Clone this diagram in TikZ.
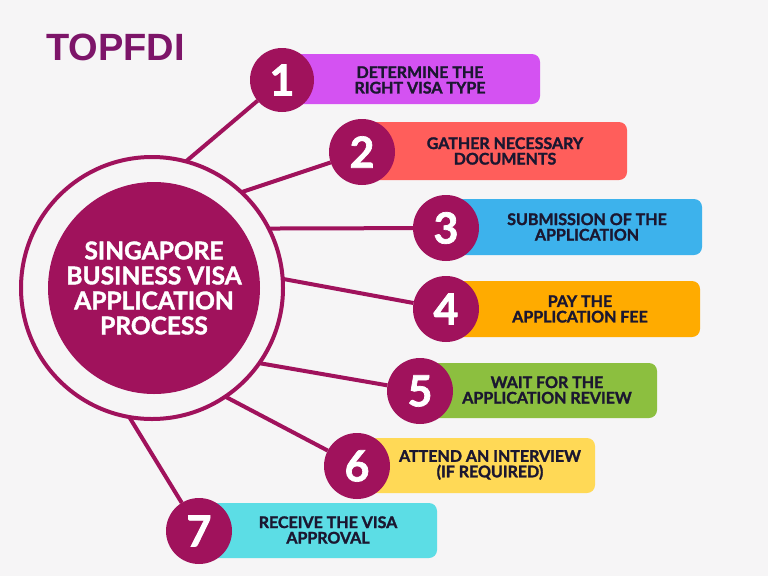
\documentclass[tikz,border=0pt]{standalone}
\usepackage{fontspec}
\setmainfont{Lato}[BoldFeatures={FakeBold=1.6}]
\newfontfamily\arialf{Liberation Sans}
\definecolor{bgc}{HTML}{F6F5F6}
\definecolor{mag}{HTML}{A0125C}
\definecolor{brand}{HTML}{7D1569}
\definecolor{txt}{HTML}{1B1730}
\definecolor{bxa}{HTML}{D452F2}
\definecolor{bxb}{HTML}{FF5E5B}
\definecolor{bxc}{HTML}{3DB2EC}
\definecolor{bxd}{HTML}{FFAB00}
\definecolor{bxe}{HTML}{8CBF3F}
\definecolor{bxf}{HTML}{FFD956}
\definecolor{bxg}{HTML}{5CDDE5}
\tikzset{
  numc/.style={circle, fill=mag, minimum size=66pt, inner sep=0pt, outer sep=0pt, text=white, font=\fontsize{43}{43}\selectfont\bfseries},
  stepbox/.style={rounded corners=8pt, inner sep=0pt, outer sep=0pt},
  steptxt/.style={align=center, text=txt, font=\fontsize{16}{15.5}\selectfont\bfseries, inner sep=0pt},
  conn/.style={draw=mag, line width=4pt},
}
\begin{document}
\begin{tikzpicture}[x=1pt,y=-1pt]
\fill[bgc] (0,0) rectangle (768,576);
\useasboundingbox (0,0) rectangle (768,576);

\node[font=\arialf\fontsize{38}{38}\selectfont\bfseries, text=brand, anchor=west, inner sep=0pt] (brand) at (46,47) {TOPFDI};

% central circle
\node[circle, draw=mag, line width=4pt, minimum size=262pt, inner sep=0pt, outer sep=0pt] (ring) at (152,288) {};
\node[circle, fill=mag, minimum size=212pt, inner sep=0pt, text=white, align=center,
      font=\fontsize{24.5}{25}\selectfont\bfseries] (hub) at (154,288) {SINGAPORE\\BUSINESS VISA\\APPLICATION\\PROCESS};

% number circle positions
\coordinate (p1) at (282,80);
\coordinate (p2) at (362,152);
\coordinate (p3) at (446,228);
\coordinate (p4) at (446,309);
\coordinate (p5) at (420,391);
\coordinate (p6) at (357,466);
\coordinate (p7) at (199,531);

% boxes
\fill[bxa, stepbox] (282,54) rectangle (540,104);
\fill[bxb, stepbox] (362,122) rectangle (627,180);
\fill[bxc, stepbox] (446,199) rectangle (702,255);
\fill[bxd, stepbox] (446,281) rectangle (700,337);
\fill[bxe, stepbox] (420,363) rectangle (657,418);
\fill[bxf, stepbox] (357,438) rectangle (595,493);
\fill[bxg, stepbox] (199,503) rectangle (437,558);

\node[steptxt] (t1) at (420,80) {DETERMINE THE\\RIGHT VISA TYPE};
\node[steptxt] (t2) at (505,151) {GATHER NECESSARY\\DOCUMENTS};
\node[steptxt] (t3) at (587,227) {SUBMISSION OF THE\\APPLICATION};
\node[steptxt] (t4) at (580,309) {PAY THE\\APPLICATION FEE};
\node[steptxt] (t5) at (547,390) {WAIT FOR THE\\APPLICATION REVIEW};
\node[steptxt] (t6) at (490,465) {ATTEND AN INTERVIEW\\(IF REQUIRED)};
\node[steptxt] (t7) at (328,530) {RECEIVE THE VISA\\APPROVAL};

% number circles
\node[numc, minimum size=64pt] (c1) at (p1) {1};
\node[numc] (c2) at (p2) {2};
\node[numc] (c3) at (p3) {3};
\node[numc] (c4) at (p4) {4};
\node[numc] (c5) at (p5) {5};
\node[numc] (c6) at (p6) {6};
\node[numc] (c7) at (p7) {7};

% connectors
\draw[conn] (ring.75.5) -- (c1);
\draw[conn] (ring.47.5) -- (c2);
\draw[conn] (ring.27.2) -- (c3);
\draw[conn] (ring.4.8) -- (c4);
\draw[conn] (ring.-35.5) -- (c5);
\draw[conn] (ring.-56.4) -- (c6);
\draw[conn] (ring.-100) -- (c7);
\end{tikzpicture}
\end{document}
